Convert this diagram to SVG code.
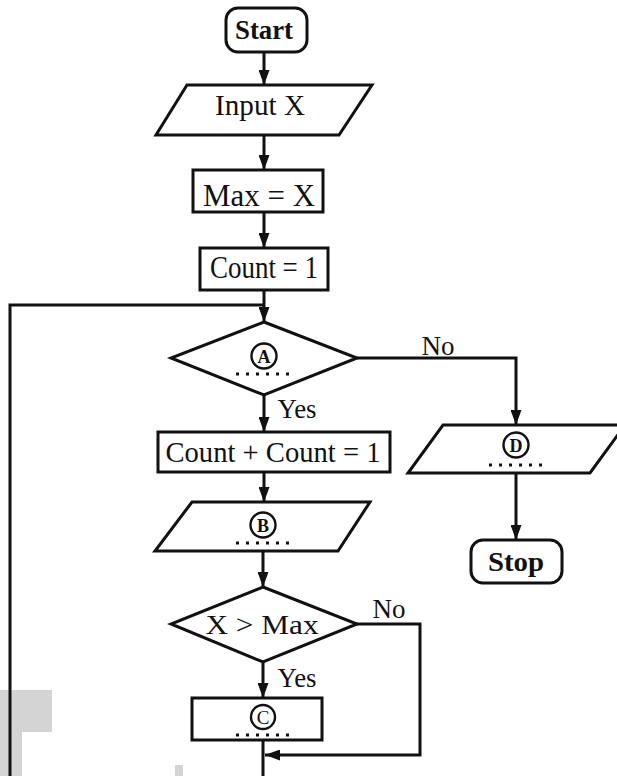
<svg xmlns="http://www.w3.org/2000/svg" width="617" height="776" viewBox="0 0 617 776">
<defs>
<marker id="arr" viewBox="0 0 15 11" refX="15" refY="5.5" markerWidth="15" markerHeight="11" markerUnits="userSpaceOnUse" orient="auto">
<path d="M0,0 L15,5.5 L0,11 Z" fill="#111"/>
</marker>
</defs>
<style>
.shape{fill:#fff;stroke:#111;stroke-width:3;stroke-linejoin:miter}
.conn{fill:none;stroke:#111;stroke-width:3}
.t{font-family:"Liberation Serif","Times New Roman",serif;fill:#111;text-anchor:middle}
.b{font-weight:bold}
.circ{fill:none;stroke:#111;stroke-width:2.4}
.cl{font-family:"Liberation Serif","Times New Roman",serif;font-weight:bold;font-size:18px;fill:#111;text-anchor:middle}
.dots{fill:none;stroke:#111;stroke-width:3;stroke-dasharray:3 7}
.wm{fill:#d4d4d4}
</style>
<rect width="617" height="776" fill="#fff"/>
<g id="watermark">
<rect class="wm" x="0" y="690" width="52" height="42"/>
<rect class="wm" x="0" y="732" width="22" height="44"/>
<rect class="wm" x="175" y="765" width="8" height="11"/>
</g>
<g id="connectors">
<line class="conn" x1="264" y1="52" x2="264" y2="85" marker-end="url(#arr)"/>
<line class="conn" x1="264" y1="135" x2="264" y2="170" marker-end="url(#arr)"/>
<line class="conn" x1="264" y1="212" x2="264" y2="248" marker-end="url(#arr)"/>
<line class="conn" x1="264" y1="290" x2="264" y2="322" marker-end="url(#arr)"/>
<polyline class="conn" points="10,776 10,305 264,305"/>
<line class="conn" x1="264" y1="395" x2="264" y2="432" marker-end="url(#arr)"/>
<line class="conn" x1="264" y1="472" x2="264" y2="502" marker-end="url(#arr)"/>
<line class="conn" x1="263" y1="551" x2="263" y2="587" marker-end="url(#arr)"/>
<line class="conn" x1="263" y1="661" x2="263" y2="698" marker-end="url(#arr)"/>
<line class="conn" x1="263" y1="740" x2="263" y2="776"/>
<polyline class="conn" points="355,624 420,624 420,755 265,755" marker-end="url(#arr)"/>
<polyline class="conn" points="357,358 516,358 516,425" marker-end="url(#arr)"/>
<line class="conn" x1="516" y1="473" x2="516" y2="540" marker-end="url(#arr)"/>
<text class="t" x="438" y="355" font-size="27" textLength="33" lengthAdjust="spacingAndGlyphs">No</text>
<text class="t" x="297" y="418" font-size="28" textLength="39" lengthAdjust="spacingAndGlyphs">Yes</text>
<text class="t" x="389" y="618" font-size="27" textLength="33" lengthAdjust="spacingAndGlyphs">No</text>
<text class="t" x="297" y="687" font-size="28" textLength="39" lengthAdjust="spacingAndGlyphs">Yes</text>
</g>
<g id="start">
<rect class="shape" x="226" y="8" width="81" height="44" rx="12"/>
<text class="t b" x="264" y="39" font-size="27" textLength="58" lengthAdjust="spacingAndGlyphs">Start</text>
</g>
<g id="input">
<polygon class="shape" points="187,85 372,85 339,135 156,135"/>
<text class="t" x="260" y="115" font-size="30" textLength="90" lengthAdjust="spacingAndGlyphs">Input  X</text>
</g>
<g id="max">
<rect class="shape" x="193" y="170" width="130" height="42"/>
<text class="t" x="259" y="206" font-size="31" textLength="112" lengthAdjust="spacingAndGlyphs">Max  =  X</text>
</g>
<g id="count1">
<rect class="shape" x="200" y="248" width="128" height="42"/>
<text class="t" x="264" y="278" font-size="31" textLength="108" lengthAdjust="spacingAndGlyphs">Count = 1</text>
</g>
<g id="decisionA">
<polygon class="shape" points="264,322 357,358 264,395 171,358"/>
<circle class="circ" cx="264" cy="356" r="12.5"/>
<text class="cl" x="264" y="362.5">A</text>
<line class="dots" x1="236" y1="374" x2="290" y2="374"/>
</g>
<g id="countInc">
<rect class="shape" x="158" y="432" width="232" height="40"/>
<text class="t" x="273" y="462" font-size="30" textLength="215" lengthAdjust="spacingAndGlyphs">Count +  Count  = 1</text>
</g>
<g id="outputB">
<polygon class="shape" points="192,502 370,502 338,551 155,551"/>
<circle class="circ" cx="263" cy="525" r="12.5"/>
<text class="cl" x="263" y="531.5">B</text>
<line class="dots" x1="236" y1="543" x2="290" y2="543"/>
</g>
<g id="decisionMax">
<polygon class="shape" points="263,587 357,624 263,662 171,624"/>
<text class="t" x="262" y="634" font-size="28" textLength="113" lengthAdjust="spacingAndGlyphs">X  &gt;  Max</text>
</g>
<g id="processC">
<rect class="shape" x="192" y="698" width="130" height="42"/>
<circle class="circ" cx="263" cy="717" r="12" stroke-width="1.8"/>
<text class="t" x="263" y="723.5" font-size="19">C</text>
<line class="dots" x1="236" y1="735" x2="290" y2="735"/>
</g>
<g id="outputD">
<polygon class="shape" points="443,425 625,425 590,473 408,473"/>
<circle class="circ" cx="516" cy="445" r="12.5"/>
<text class="cl" x="516" y="451.5">D</text>
<line class="dots" x1="489" y1="465" x2="543" y2="465"/>
</g>
<g id="stop">
<rect class="shape" x="471" y="540" width="91" height="43" rx="12"/>
<text class="t b" x="516" y="571" font-size="27" textLength="56" lengthAdjust="spacingAndGlyphs">Stop</text>
</g>
</svg>
